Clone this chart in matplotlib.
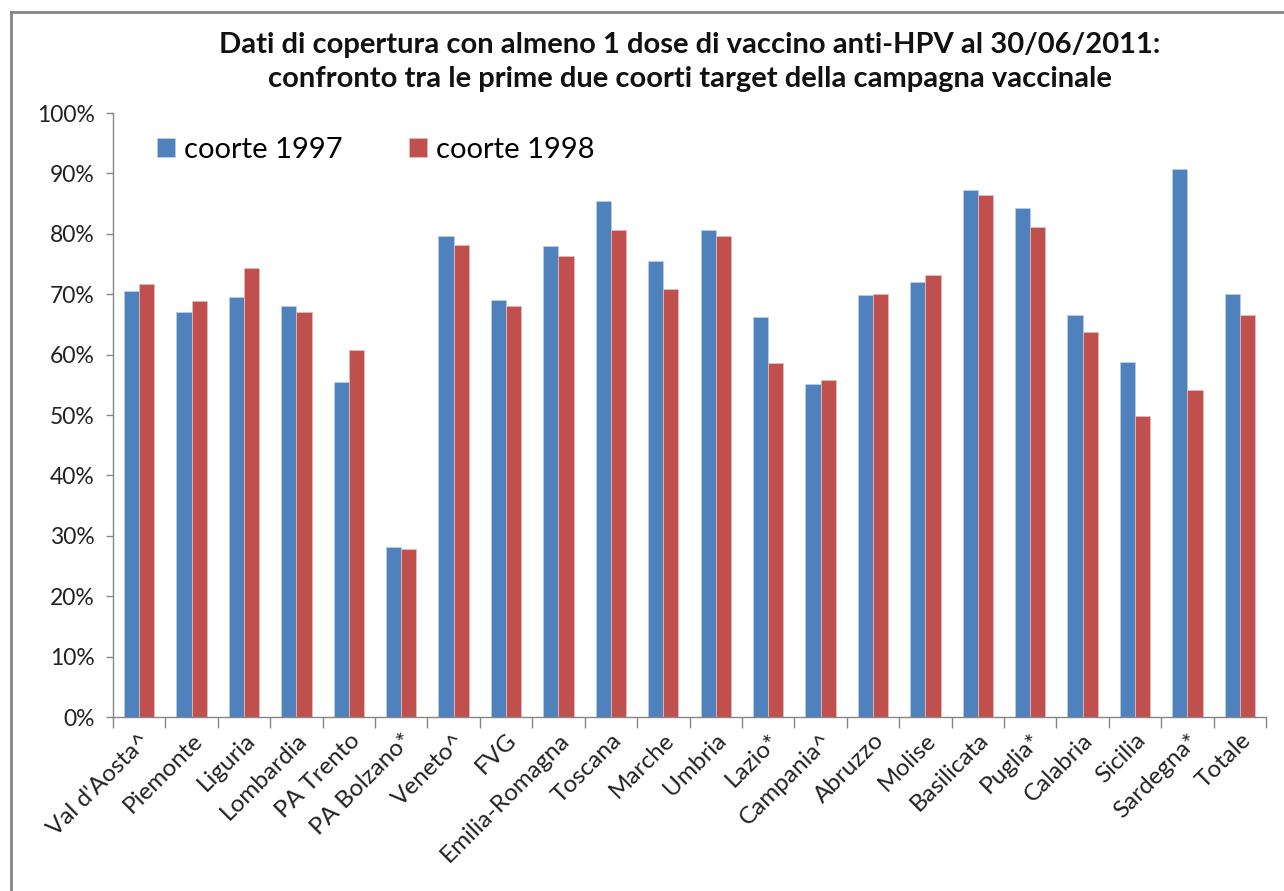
import matplotlib
matplotlib.use("Agg")
import matplotlib.pyplot as plt
import numpy as np
from matplotlib.lines import Line2D

categories = ["Val d'Aosta^", "Piemonte", "Liguria", "Lombardia", "PA Trento",
              "PA Bolzano*", "Veneto^", "FVG", "Emilia-Romagna", "Toscana",
              "Marche", "Umbria", "Lazio*", "Campania^", "Abruzzo", "Molise",
              "Basilicata", "Puglia*", "Calabria", "Sicilia", "Sardegna*", "Totale"]
coorte_1997 = [70.6, 67.0, 69.6, 68.1, 55.4, 28.1, 79.7, 69.0, 77.9, 85.5,
               75.5, 80.6, 66.2, 55.2, 69.8, 72.1, 87.2, 84.2, 66.6, 58.7, 90.8, 70.0]
coorte_1998 = [71.7, 68.8, 74.4, 67.0, 60.7, 27.8, 78.1, 68.1, 76.4, 80.6,
               70.9, 79.7, 58.6, 55.8, 70.0, 73.2, 86.5, 81.1, 63.7, 49.9, 54.1, 66.6]
series_names = ["coorte 1997", "coorte 1998"]
title = ("Dati di copertura con almeno 1 dose di vaccino anti-HPV al 30/06/2011:\n"
         "confronto tra le prime due coorti target della campagna vaccinale")

plt.rcParams['font.family'] = ['Lato', 'DejaVu Sans']

fig = plt.figure(figsize=(12.84, 8.91), dpi=100)
ax = fig.add_axes([113/1284, 1 - 717/891, (1266-113)/1284, (717-113)/891])

x = np.arange(len(categories))
w = 0.29
ax.bar(x - w/2, coorte_1997, w, color='#4F81BD', edgecolor='#B9CDE5', linewidth=0.6,
       label=series_names[0], zorder=2)
ax.bar(x + w/2, coorte_1998, w, color='#C0504D', edgecolor='#E6B9B8', linewidth=0.6,
       label=series_names[1], zorder=2)

ax.set_xlim(-0.5, len(categories) - 0.5)
ax.set_ylim(0, 100)
ax.set_yticks(np.arange(0, 101, 10))
ax.set_yticklabels([f"{v}%" for v in range(0, 101, 10)], fontsize=16.5, color='#222222')
ax.set_xticks(x)
ax.set_xticklabels(categories, rotation=45, ha='right', rotation_mode='anchor',
                   fontsize=17.5, color='#222222')
ax.tick_params(axis='x', length=0, pad=9)
ax.set_xticks(np.arange(-0.5, len(categories), 1), minor=True)
ax.tick_params(axis='x', which='minor', length=8, color='#868686', width=1)
ax.tick_params(axis='y', length=5, color='#868686', width=1, pad=8)

for s in ['top', 'right']:
    ax.spines[s].set_visible(False)
for s in ['left', 'bottom']:
    ax.spines[s].set_color('#868686')
    ax.spines[s].set_linewidth(1)

leg = ax.legend(loc='upper left', bbox_to_anchor=(0.038, 0.96), ncol=2, frameon=False,
                fontsize=21, handlelength=0.62, handleheight=0.62, handletextpad=0.3,
                columnspacing=2.3, borderpad=0, borderaxespad=0)

fig.text(690/1284, 1 - 62/891, title, ha='center', va='center', fontsize=21,
         fontweight='bold', color='#111111', linespacing=1.4)

# outer frame: only top and left edges are visible in the reference
fig.add_artist(Line2D([11/1284, 1.0], [1 - 12/891, 1 - 12/891], transform=fig.transFigure,
                      color='#858585', linewidth=2))
fig.add_artist(Line2D([11/1284, 11/1284], [0.0, 1 - 12/891], transform=fig.transFigure,
                      color='#858585', linewidth=2))

fig.savefig("out.png", dpi=100)
